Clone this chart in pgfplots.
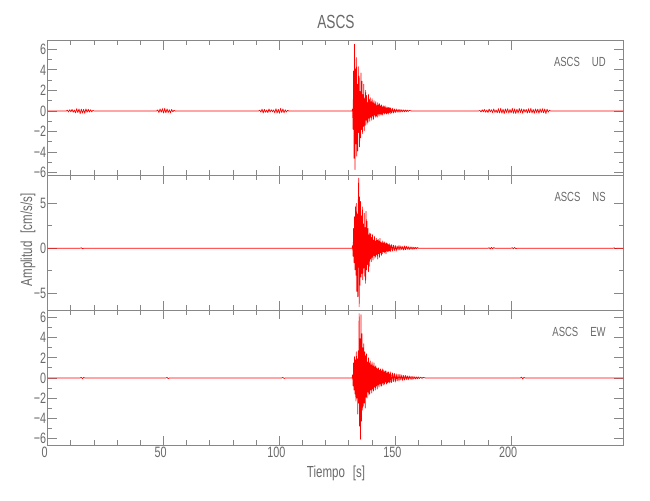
\documentclass[border=0pt]{standalone}
\usepackage{fontspec}
\setmainfont{Liberation Sans}[FakeStretch=0.72]
\usepackage{pgfplots}
\pgfplotsset{compat=1.18}
\definecolor{txt}{RGB}{105,105,105}
\definecolor{frm}{RGB}{135,135,135}

\pgfplotsset{
  seis/.style={
    scale only axis, width=287.8pt,
    xmin=0, xmax=248.4,
    xtick={0,50,100,150,200}, minor x tick num=4,
    axis line style={frm, line width=0.45pt},
    tick style={frm, line width=0.45pt},
    major tick length=4.5pt, minor tick length=2.3pt,
    /pgf/number format/assume math mode=true,
    tick label style={font=\fontsize{7.5}{8}\selectfont, text=txt},
    yticklabel style={inner sep=0.6pt},
    xticklabel style={inner sep=1pt, xshift=-1.5pt},
    no markers, clip=true,
  },
}
\tikzset{
  trace/.style={red, line width=0.35pt, line join=round},
  lab/.style={font=\fontsize{6.6}{7}\selectfont, text=txt, anchor=east, inner sep=0pt},
}

\begin{document}
\begin{tikzpicture}
\useasboundingbox (0,0) rectangle (325pt,250pt);

% UD
\begin{axis}[seis, at={(23.85pt,162.5pt)}, anchor=south west, height=67.15pt,
  ymin=-6.23, ymax=6.84, ytick={-6,-4,-2,0,2,4,6}, minor y tick num=1,
  yticklabels={−6,−4,−2,0,2,4,6}, xticklabels={}]
\addplot[trace] table {
t a
0 0
8 0
8.5 0.08
9.0 -0.1
9.5 0.12
10.0 -0.08
10.5 0.15
11.0 -0.12
11.5 0.1
12.0 -0.18
12.5 0.22
13.0 -0.15
13.5 0.2
14.0 -0.25
14.5 0.18
15.0 -0.2
15.5 0.15
16.0 -0.22
16.5 0.2
17.0 -0.12
17.5 0.16
18.0 -0.1
18.5 0.12
19.0 -0.08
19.5 0.06
20.0 0
47.0 0
47.5 0.1
48 -0.15
48.5 0.2
49 -0.12
49.5 0.22
50 -0.2
50.5 0.25
51 -0.18
51.5 0.2
52 -0.15
52.5 0.12
53 -0.18
53.5 0.15
54 -0.08
54.5 0.06
55 0
91 0
91.5 0.08
92 -0.12
92.5 0.18
93 -0.2
93.5 0.15
94 -0.12
94.5 0.1
95 -0.16
95.5 0.2
96 -0.1
96.5 0.12
97 -0.08
97.5 0.1
98 -0.18
98.5 0.22
99 -0.2
99.5 0.16
100 -0.22
100.5 0.24
101 -0.15
101.5 0.2
102 -0.18
102.5 0.12
103 -0.1
103.5 0.06
104 0
131.4 0
131.6 0.2
131.8 -1.8
132.0 3.9
132.2 -4.6
132.4 6.5
132.6 -5.7
132.8 4.1
133.0 -3.2
133.2 5.2
133.4 -4.4
133.6 2.6
133.8 -3.9
134.0 4.3
134.2 -2.1
134.4 3.4
134.6 -3.5
134.8 1.9
135.0 -2.6
135.2 3.7
135.4 -1.8
135.6 2.9
135.8 -2.2
136.0 1.6
136.2 -1.5
136.4 2.6
136.6 -1.9
136.8 1.2
137.0 -1.4
137.2 2.0
137.4 -0.9
137.6 1.5
137.8 -1.3
138.0 0.8
138.2 -1.1
138.4 1.6
138.6 -0.7
138.8 1.1
139.0 -1.0
139.2 1.3
139.4 -0.6
139.6 0.9
139.8 -0.9
140.0 1.2
140.2 -0.5
140.4 0.8
140.6 -0.8
140.8 1.0
141.0 -0.4
141.2 0.7
141.4 -0.6
141.6 0.9
141.8 -0.5
142.0 0.5
142.2 -0.6
142.4 0.8
142.6 -0.3
142.8 0.6
143.0 -0.5
143.2 0.7
143.4 -0.3
143.6 0.5
143.8 -0.4
144.0 0.6
144.2 -0.3
144.4 0.4
144.6 -0.4
144.8 0.5
145.0 -0.2
145.2 0.4
145.4 -0.3
145.6 0.5
145.8 -0.2
146.0 0.3
146.2 -0.3
146.4 0.4
146.6 -0.2
146.8 0.3
147.0 -0.3
147.2 0.35
147.4 -0.15
147.6 0.3
147.8 -0.25
148.0 0.3
148.4 -0.2
148.8 0.25
149.2 -0.2
149.6 0.2
150.0 -0.15
150.4 0.2
150.8 -0.12
151.2 0.15
151.6 -0.12
152.0 0.15
152.4 -0.1
152.8 0.12
153.2 -0.08
153.6 0.1
154.0 -0.08
154.4 0.1
154.8 -0.06
155.2 0.08
155.6 -0.05
156.0 0.06
157 0
186 0
186.5 0.06
187 -0.1
187.5 0.12
188 -0.08
188.5 0.15
189 -0.12
189.5 0.1
190 -0.15
190.5 0.18
191 -0.1
191.5 0.12
192 -0.16
192.5 0.2
193 -0.14
193.5 0.1
194 -0.18
194.5 0.22
195 -0.2
195.5 0.25
196 -0.22
196.5 0.18
197 -0.25
197.5 0.2
198 -0.15
198.5 0.22
199 -0.2
199.5 0.15
200 -0.18
200.5 0.25
201 -0.22
201.5 0.2
202 -0.24
202.5 0.18
203 -0.2
203.5 0.25
204 -0.15
204.5 0.2
205 -0.22
205.5 0.18
206 -0.12
206.5 0.15
207 -0.2
207.5 0.22
208 -0.18
208.5 0.25
209 -0.2
209.5 0.15
210 -0.22
210.5 0.2
211 -0.15
211.5 0.18
212 -0.22
212.5 0.2
213 -0.15
213.5 0.22
214 -0.18
214.5 0.2
215 -0.25
215.5 0.18
216 -0.12
216.5 0.08
217 0
248.4 0
};
\node[lab] at (rel axis cs:0.97,0.844) {ASCS\hspace{6pt}UD};
\end{axis}

% NS
\begin{axis}[seis, at={(23.85pt,95pt)}, anchor=south west, height=67.5pt,
  ymin=-6.86, ymax=8.14, ytick={-5,0,5}, minor y tick num=1,
  yticklabels={−5,0,5}, xticklabels={}]
\addplot[trace] table {
t a
0 0
14 0
14.5 0.05
15 -0.05
15.5 0
131.4 0
131.6 0.3
131.8 -0.9
132.0 2.2
132.2 -1.6
132.4 3.5
132.6 -2.4
132.8 4.6
133.0 -3.0
133.2 5.0
133.4 -4.8
133.6 3.8
133.8 -5.4
134.0 4.4
134.2 7.8
134.4 -6.5
134.6 5.7
134.8 -4.1
135.0 5.2
135.2 -3.2
135.4 3.6
135.6 -2.8
135.8 4.6
136.0 -3.5
136.2 2.7
136.4 -2.2
136.6 3.9
136.8 -3.1
137.0 2.3
137.2 -3.9
137.4 4.1
137.6 -2.4
137.8 3.0
138.0 -1.8
138.2 2.2
138.4 -2.6
138.6 1.5
138.8 -2.0
139.0 1.7
139.2 -1.2
139.4 1.6
139.6 -1.5
139.8 1.2
140.0 -1.0
140.2 1.5
140.4 -1.3
140.6 0.9
140.8 -0.8
141.0 1.3
141.2 -1.1
141.4 0.8
141.6 -0.9
141.8 1.1
142.0 -0.7
142.2 0.9
142.4 -1.2
142.6 1.0
142.8 -0.6
143.0 0.8
143.2 -1.0
143.4 1.1
143.6 -0.5
143.8 0.7
144.0 -0.8
144.2 0.6
144.4 -0.6
144.6 0.8
144.8 -0.4
145.0 0.6
145.2 -0.5
145.4 0.7
145.6 -0.4
145.8 0.5
146.0 -0.6
146.2 0.6
146.4 -0.3
146.6 0.5
146.8 -0.4
147.0 0.4
147.2 -0.3
147.4 0.5
147.6 -0.3
147.8 0.35
148.0 -0.35
148.4 0.4
148.8 -0.3
149.2 0.35
149.6 -0.25
150.0 0.3
150.4 -0.3
150.8 0.25
151.2 -0.2
151.6 0.3
152.0 -0.2
152.4 0.25
152.8 -0.15
153.2 0.2
153.6 -0.2
154.0 0.25
154.4 -0.15
154.8 0.2
155.2 -0.12
155.6 0.18
156.0 -0.15
156.4 0.15
156.8 -0.1
157.2 0.15
157.6 -0.12
158.0 0.12
158.4 -0.08
158.8 0.1
159.2 -0.06
159.6 0.08
160.0 0
190 0
190.5 0.06
191 -0.08
191.5 0.1
192 -0.06
192.5 0.08
193 0
200 0
200.5 0.06
201 -0.06
201.5 0.08
202 -0.05
202.5 0
244 0
244.5 0.05
245 -0.05
245.5 0
248.4 0
};
\node[lab] at (rel axis cs:0.97,0.84) {ASCS\hspace{6pt}NS};
\end{axis}

% EW
\begin{axis}[seis, at={(23.85pt,27.5pt)}, anchor=south west, height=67.5pt,
  ymin=-6.67, ymax=6.76, ytick={-6,-4,-2,0,2,4,6}, minor y tick num=1,
  yticklabels={−6,−4,−2,0,2,4,6}]
\addplot[trace] table {
t a
0 0
14 0
14.5 0.06
15 -0.08
15.5 0.05
16 0
51 0
51.5 0.05
52 -0.06
52.5 0
101 0
101.5 0.05
102 -0.05
102.5 0
131.4 0
131.6 0.3
131.8 -0.8
132.0 1.5
132.2 -1.2
132.4 2.1
132.6 -1.6
132.8 1.8
133.0 -2.3
133.2 2.6
133.4 -2.0
133.6 1.9
133.8 -3.6
134.0 2.7
134.2 -2.5
134.4 6.4
134.6 -4.8
134.8 3.9
135.0 -6.1
135.2 6.3
135.4 -4.3
135.6 4.4
135.8 -3.2
136.0 3.0
136.2 -2.8
136.4 3.4
136.6 -2.5
136.8 2.6
137.0 -3.0
137.2 2.2
137.4 -1.9
137.6 2.4
137.8 -2.0
138.0 1.6
138.2 -1.4
138.4 2.0
138.6 -1.7
138.8 1.5
139.0 -1.6
139.2 1.7
139.4 -1.2
139.6 1.3
139.8 -1.5
140.0 1.6
140.2 -1.1
140.4 1.2
140.6 -1.3
140.8 1.5
141.0 -0.9
141.2 1.1
141.4 -1.2
141.6 1.2
141.8 -0.8
142.0 1.0
142.2 -1.1
142.4 0.9
142.6 -0.7
142.8 1.0
143.0 -0.9
143.2 0.8
143.4 -0.6
143.6 0.9
143.8 -0.8
144.0 0.7
144.2 -0.8
144.4 0.9
144.6 -0.5
144.8 0.8
145.0 -0.7
145.2 0.6
145.4 -0.6
145.6 0.7
145.8 -0.4
146.0 0.7
146.2 -0.6
146.4 0.5
146.6 -0.5
146.8 0.6
147.0 -0.4
147.2 0.6
147.4 -0.5
147.6 0.4
147.8 -0.4
148.0 0.6
148.4 -0.45
148.8 0.5
149.2 -0.35
149.6 0.45
150.0 -0.4
150.4 0.4
150.8 -0.3
151.2 0.35
151.6 -0.3
152.0 0.35
152.4 -0.2
152.8 0.3
153.2 -0.25
153.6 0.25
154.0 -0.2
154.4 0.25
154.8 -0.15
155.2 0.2
155.6 -0.18
156.0 0.2
156.4 -0.12
156.8 0.15
157.2 -0.15
157.6 0.15
158.0 -0.1
158.4 0.12
158.8 -0.1
159.2 0.1
159.6 -0.08
160.0 0.1
160.4 -0.06
161 0.08
161.5 -0.05
162 0.06
163 0
204 0
204.5 0.08
205 -0.1
205.5 0.06
206 0
248.4 0
};
\node[lab] at (rel axis cs:0.97,0.84) {ASCS\hspace{6pt}EW};
\end{axis}

\node[font=\fontsize{9.5}{10}\selectfont, text=txt] at (168pt,239.25pt) {ASCS};
\node[font=\fontsize{8}{9}\selectfont, text=txt] at (168pt,13.5pt) {Tiempo\hspace{4pt}[s]};
\node[font=\fontsize{8}{9}\selectfont, text=txt, rotate=90] at (14pt,130pt) {Amplitud\hspace{4pt}[cm/s/s]};
\end{tikzpicture}
\end{document}
